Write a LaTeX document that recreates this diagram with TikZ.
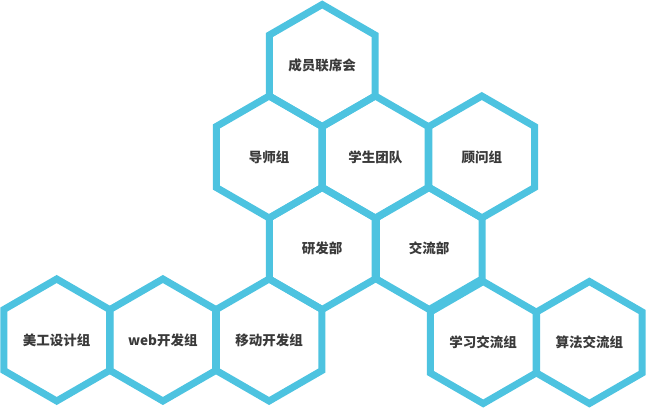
\documentclass[tikz,border=0pt]{standalone}
\usepackage{fontspec}
\newfontfamily\cjk{Noto Sans CJK SC}
\usetikzlibrary{shapes.geometric}
\definecolor{hexblue}{HTML}{4DC3E0}
\definecolor{hextext}{HTML}{3A3A3A}
\begin{document}
\begin{tikzpicture}[x=1pt, y=-1pt]
	\tikzstyle{cell} = [draw=hexblue, line width=7pt, regular polygon, regular polygon sides=6, shape border rotate=30, minimum size=122pt, inner sep=0pt, text=hextext, font={\cjk\bfseries\fontsize{13.5}{16}\selectfont}];
	\useasboundingbox (0,0) rectangle (647,409);

	% rows of the honeycomb, top to bottom
	\def \cells {committee/322.2/65.5/成员联席会,
		tutors/269.1/157/导师组, students/375.3/157/学生团队, advisors/481.8/157/顾问组,
		research/322.2/248.5/研发部, exchange/429.2/248.5/交流部,
		art/56.7/340/美工设计组, web/162.9/340/web开发组, mobile/269.1/340/移动开发组,
		study/483.2/342.5/学习交流组, algo/589.4/342.5/算法交流组}

	\foreach \name/\cx/\cy/\txt in \cells {
		\node[cell] (\name) at (\cx,\cy) {\txt};
	}
\end{tikzpicture}
\end{document}
